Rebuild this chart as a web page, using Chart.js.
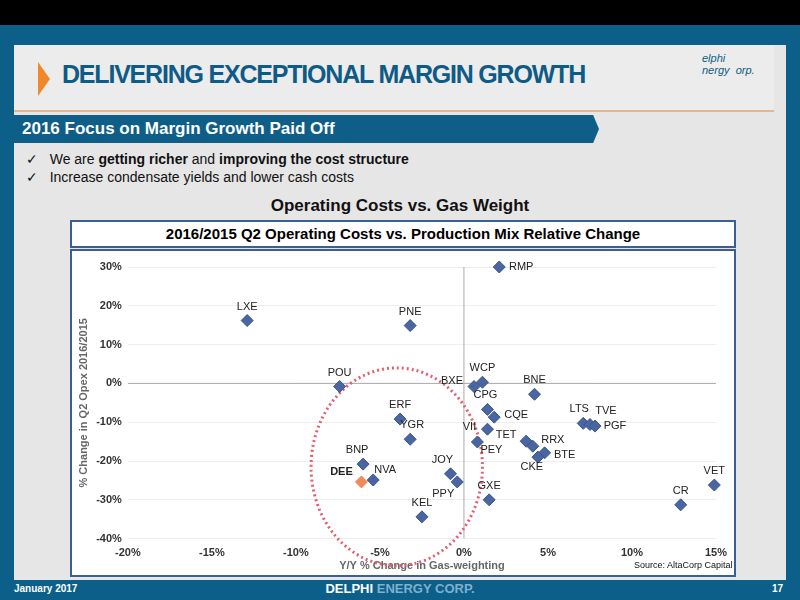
<!DOCTYPE html>
<html><head><meta charset="utf-8">
<script src="https://cdn.jsdelivr.net/npm/chart.js@4/dist/chart.umd.min.js"></script>
<style>
body{margin:0;width:800px;height:600px;background:#0b5f88;font-family:"Liberation Sans",Arial,sans-serif;position:relative;overflow:hidden}
#top{position:absolute;left:0;top:0;width:800px;height:25px;background:#000}
#panel{position:absolute;left:14px;top:45px;width:772px;height:535px;background:#e6e6e6}
#head{position:absolute;left:14px;top:45px;width:760px;height:65px;background:#ececec;border-bottom:2px solid #e8b48a}
#title{position:absolute;left:62px;top:60px;font-size:25px;font-weight:bold;color:#0d5b86;letter-spacing:-1.2px}
#chev{position:absolute;left:38px;top:62px;width:0;height:0;border-left:12px solid #f0882a;border-top:17px solid transparent;border-bottom:17px solid transparent}
#bar{position:absolute;left:14px;top:115px;width:585px;height:28px;background:#0e5e88;clip-path:polygon(0 0,99% 0,100% 50%,99% 100%,0 100%)}
#bar span{position:absolute;left:8px;top:4px;color:#fff;font-size:17px;font-weight:bold}
.b{position:absolute;left:26px;font-size:14px;color:#111}
#h2{position:absolute;left:0;width:800px;top:196px;text-align:center;font-size:17px;font-weight:bold;color:#111}
#sub{position:absolute;left:70px;top:220px;width:662px;height:24px;background:#fff;border:2px solid #3b5f95;text-align:center;font-size:15px;font-weight:bold;line-height:24px}
#box{position:absolute;left:70px;top:249px;width:662px;height:324px;background:#fff;border:2px solid #3b5f95}
.foot{position:absolute;top:583px;font-size:10px;color:#fff;font-weight:bold}
#logo{position:absolute;left:702px;top:52px;font-size:11px;font-style:italic;color:#0d5b86}
</style></head><body>
<div id="top"></div><div id="panel"></div><div id="head"></div>
<div id="chev"></div><div id="title">DELIVERING EXCEPTIONAL MARGIN GROWTH</div>
<div id="logo">elphi<br>nergy &nbsp;orp.</div>
<div id="bar"><span>2016 Focus on Margin Growth Paid Off</span></div>
<div class="b" style="top:151px">✓&nbsp;&nbsp; We are <b>getting richer</b> and <b>improving the cost structure</b></div>
<div class="b" style="top:169px">✓&nbsp;&nbsp; Increase condensate yields and lower cash costs</div>
<div id="h2">Operating Costs vs. Gas Weight</div>
<div id="sub">2016/2015 Q2 Operating Costs vs. Production Mix Relative Change</div>
<div id="box"><canvas id="c" width="662" height="324"></canvas></div>
<div class="foot" style="left:14px">January 2017</div>
<div class="foot" style="left:0;width:800px;text-align:center;font-size:13px;top:581px">DELPHI <span style="color:#7fb0d0">ENERGY CORP.</span></div>
<div class="foot" style="left:772px">17</div>
<script>
const names = ['LXE','PNE','POU','RMP','BXE','WCP','BNE','CPG','CQE','VII','PEY','TET','RRX','BTE','CKE','LTS','TVE','PGF','VET','CR','GXE','JOY','PPY','KEL','ERF','YGR','BNP','NVA','DEE'];
const gasChange = [-12.9,-3.2,-7.4,2.1,0.6,1.1,4.2,1.4,1.8,1.4,0.8,3.7,4.1,4.8,4.4,7.1,7.5,7.8,14.9,12.9,1.5,-0.8,-0.4,-2.5,-3.8,-3.2,-6.0,-5.4,-6.1];
const opexChange = [16.2,14.9,-0.8,30,-0.8,0.3,-2.8,-6.7,-8.7,-11.8,-15.1,-14.9,-16.2,-17.9,-19,-10.3,-10.6,-11,-26.2,-31.3,-30,-23.3,-25.4,-34.4,-9.2,-14.4,-20.8,-24.9,-25.4];
// label offset [dx,dy] in px, per point
const labelPos = [[0,-14],[0,-14],[0,-14],[22,0],[-22,-6],[0,-14],[0,-14],[-2,-14],[22,-2],[-18,-2],[14,8],[-20,-6],[20,-6],[20,2],[-6,10],[-4,-14],[16,-14],[20,0],[0,-14],[0,-14],[0,-14],[-8,-14],[-14,12],[0,-14],[0,-14],[2,-14],[-6,-14],[12,-10],[-20,-10]];
const ticksX = [-20,-15,-10,-5,0,5,10,15];
const ticksY = [-40,-30,-20,-10,0,10,20,30];

const extras = {
  id:'extras',
  beforeDatasetsDraw(ch){
    const {ctx,scales:{x,y}} = ch;
    ctx.save();
    ctx.strokeStyle='#aaa';ctx.lineWidth=1;
    ctx.beginPath();ctx.moveTo(x.left,y.getPixelForValue(0));ctx.lineTo(x.right,y.getPixelForValue(0));
    ctx.moveTo(x.getPixelForValue(0),y.top);ctx.lineTo(x.getPixelForValue(0),y.bottom);ctx.stroke();
    // dotted circle
    const cx=x.getPixelForValue(-4),cy=y.getPixelForValue(-21.5);
    const rx=Math.abs(x.getPixelForValue(1.1)-cx), ry=Math.abs(y.getPixelForValue(-47)-cy);
    ctx.strokeStyle='#e06070';ctx.lineWidth=3;ctx.setLineDash([2,3]);
    ctx.beginPath();ctx.ellipse(cx,cy,rx,ry,0,0,Math.PI*2);ctx.stroke();
    ctx.restore();
  },
  afterDatasetsDraw(ch){
    const {ctx} = ch;
    const meta = ch.getDatasetMeta(0);
    ctx.save();ctx.textAlign='center';ctx.textBaseline='middle';
    meta.data.forEach((p,i)=>{
      ctx.fillStyle='#222';
      ctx.font=(names[i]==='DEE'?'bold ':'')+'11px "Liberation Sans",Arial';
      ctx.fillText(names[i],p.x+labelPos[i][0],p.y+labelPos[i][1]);
    });
    ctx.restore();
  }
};

new Chart(document.getElementById('c'),{
  type:'scatter',
  data:{datasets:[{
    data:gasChange.map((v,i)=>({x:v,y:opexChange[i]})),
    clip:false,
    pointStyle:'rectRot',
    pointRadius:6,
    backgroundColor:names.map(n=>n==='DEE'?'#f08a5a':'#4a65a0'),
    borderColor:names.map(n=>n==='DEE'?'#f08a5a':'#3a5590'),
    borderWidth:1
  }]},
  options:{
    responsive:false,animation:false,
    layout:{padding:{top:16,right:18,left:5,bottom:0}},
    plugins:{legend:{display:false},tooltip:{enabled:false}},
    scales:{
      x:{min:-20,max:15,afterBuildTicks:a=>{a.ticks=ticksX.map(v=>({value:v}))},
        grid:{display:false},border:{display:false},
        ticks:{callback:v=>v+'%',color:'#333',font:{size:11,weight:'bold'},padding:0},
        title:{display:true,text:'Y/Y % Change in Gas-weighting',color:'#666',font:{size:11,weight:'bold'},padding:{top:0,bottom:2}}},
      y:{min:-40,max:30,afterBuildTicks:a=>{a.ticks=ticksY.map(v=>({value:v}))},
        grid:{color:'#eee',drawTicks:false},border:{display:false},
        ticks:{callback:v=>v+'%',color:'#333',font:{size:11,weight:'bold'},padding:6},
        title:{display:true,text:'% Change in Q2 Opex 2016/2015',color:'#666',font:{size:11,weight:'bold'},padding:0}}
    }
  },
  plugins:[extras]
});
</script>
<div style="position:absolute;left:634px;top:560px;font-size:9px;color:#111">Source: AltaCorp Capital</div>
</body></html>
